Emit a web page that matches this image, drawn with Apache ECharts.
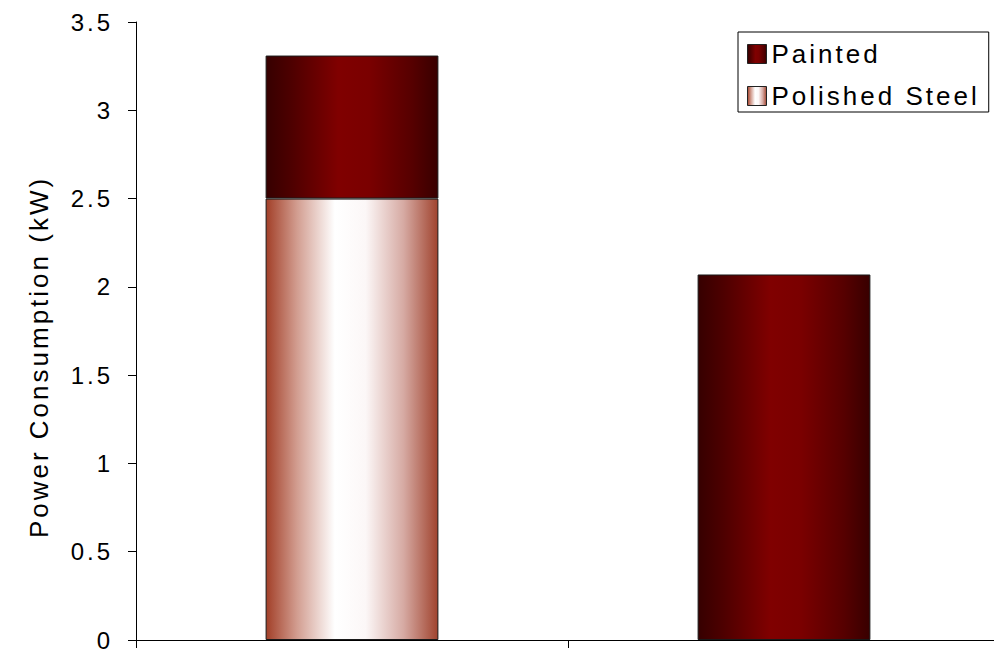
<!DOCTYPE html>
<html>
<head>
<meta charset="utf-8">
<title>Power Consumption</title>
<script src="https://cdn.jsdelivr.net/npm/echarts@6/dist/echarts.min.js"></script>
<style>
  html, body { margin: 0; padding: 0; background: #fff; }
  #main { width: 994px; height: 650px; }
  /* wide, tracked lettering for all chart text */
  #main text { letter-spacing: 3px; }
</style>
</head>
<body>
<div id="main"></div>
<script>
// Power draw per housing finish (kW)
const categories = ['Polished steel housing', 'Painted housing'];
const polishedSteel = [2.5, null];
const painted = [0.81, 2.07];
const yMin = 0, yMax = 3.5, yStep = 0.5;

const FONT = '"Liberation Sans", Arial, sans-serif';

function hGradient(stops) {
  return new echarts.graphic.LinearGradient(0, 0, 1, 0,
    stops.map(s => ({ offset: s[0], color: s[1] })));
}

const paintedFill = hGradient([
  [0, '#360000'], [0.15, '#4e0000'], [0.42, '#800000'],
  [0.6, '#7a0000'], [0.85, '#560000'], [1, '#380000']
]);
const steelFill = hGradient([
  [0, '#a23f28'], [0.18, '#d29d90'], [0.4, '#ffffff'],
  [0.58, '#fcf7f7'], [0.8, '#d6aaa3'], [1, '#a0432e']
]);

const chart = echarts.init(document.getElementById('main'), null, { renderer: 'svg' });

chart.setOption({
  animation: false,
  backgroundColor: '#fff',
  // plot area runs slightly past the right edge of the canvas
  grid: {
    left: 136, width: 864, top: 22, height: 618,
    containLabel: false, outerBoundsMode: 'none'
  },
  legend: {
    orient: 'vertical',
    left: 738,
    top: 32,
    data: ['Painted', 'Polished Steel'],
    itemWidth: 19,
    itemHeight: 19,
    itemGap: 16,
    padding: [9, 51, 3, 9],
    borderColor: '#000',
    borderWidth: 1,
    backgroundColor: '#fff',
    icon: 'rect',
    itemStyle: { borderColor: '#222', borderWidth: 1 },
    textStyle: { fontFamily: FONT, fontSize: 26, color: '#000' }
  },
  xAxis: {
    type: 'category',
    data: categories,
    boundaryGap: true,
    axisLine: { lineStyle: { color: '#000', width: 1 } },
    axisTick: { show: true, length: 8, inside: false, lineStyle: { color: '#000' } },
    axisLabel: { show: false },
    splitLine: { show: false }
  },
  yAxis: {
    type: 'value',
    min: yMin,
    max: yMax,
    interval: yStep,
    name: 'Power Consumption (kW)',
    nameLocation: 'middle',
    nameGap: 84,
    nameTextStyle: {
      fontFamily: FONT, fontSize: 26, color: '#000',
      padding: [0, 52, 0, 0]
    },
    axisLine: { show: true, lineStyle: { color: '#000', width: 1 } },
    axisTick: { show: true, length: 8, lineStyle: { color: '#000' } },
    axisLabel: { fontFamily: FONT, fontSize: 24, color: '#000', margin: 23 },
    splitLine: { show: false }
  },
  series: [
    {
      name: 'Polished Steel',
      type: 'bar',
      stack: 'finish',
      barWidth: '40%',
      data: polishedSteel,
      itemStyle: { color: steelFill, borderColor: '#1a1a1a', borderWidth: 1 }
    },
    {
      name: 'Painted',
      type: 'bar',
      stack: 'finish',
      barWidth: '40%',
      data: painted,
      itemStyle: { color: paintedFill, borderColor: '#1a1a1a', borderWidth: 1 }
    }
  ]
});
</script>
</body>
</html>
